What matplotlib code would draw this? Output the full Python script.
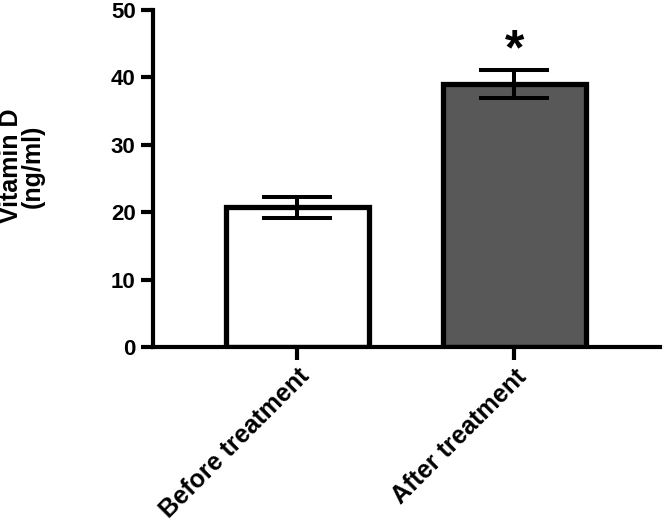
import matplotlib
matplotlib.use("Agg")
import matplotlib.pyplot as plt

categories = ["Before treatment", "After treatment"]
values = [20.7, 39.0]
errors = [1.5, 2.1]
colors = ["#ffffff", "#585858"]
sig_marks = ["", "*"]
sig_y = [None, 43.9]

plt.rcParams['font.family'] = ['Liberation Sans', 'DejaVu Sans']
plt.rcParams['font.weight'] = 'bold'

fig = plt.figure(figsize=(6.63, 5.3), dpi=100)
ax = fig.add_axes([153/663, 1-347/530, (660-153)/663, (347-10)/530])

x = list(range(len(categories)))
ax.bar(x, values, width=0.66, color=colors, edgecolor="black", linewidth=3.8, zorder=2)
ax.errorbar(x, values, yerr=errors, fmt="none", ecolor="black", elinewidth=2.9,
            capsize=25.5, capthick=2.9, zorder=3)
for xi, m, sy in zip(x, sig_marks, sig_y):
    if m:
        ax.text(xi, sy, m, ha="center", va="center", fontsize=36, fontweight="bold")

ax.set_ylim(0, 50)
ax.set_xlim(-0.664, 1.67)
ax.set_yticks([0, 10, 20, 30, 40, 50])
ax.set_xticks(x)
ax.set_xticklabels(categories, rotation=45, ha="right", rotation_mode="anchor", fontsize=18, fontweight="bold")
for lbl in ax.get_yticklabels():
    lbl.set_fontsize(16)
    lbl.set_fontweight("bold")

fig.text(22 / 663, 1 - 166 / 530, "Vitamin D\n(ng/ml)", rotation=90, ha="center", va="center",
         multialignment="center", fontsize=18, fontweight="bold", linespacing=0.85)

for s in ["top", "right"]:
    ax.spines[s].set_visible(False)
for s in ["left", "bottom"]:
    ax.spines[s].set_linewidth(3.0)
ax.tick_params(axis="both", width=3.0, length=9, pad=3.5)

fig.savefig("out.png", dpi=100)
